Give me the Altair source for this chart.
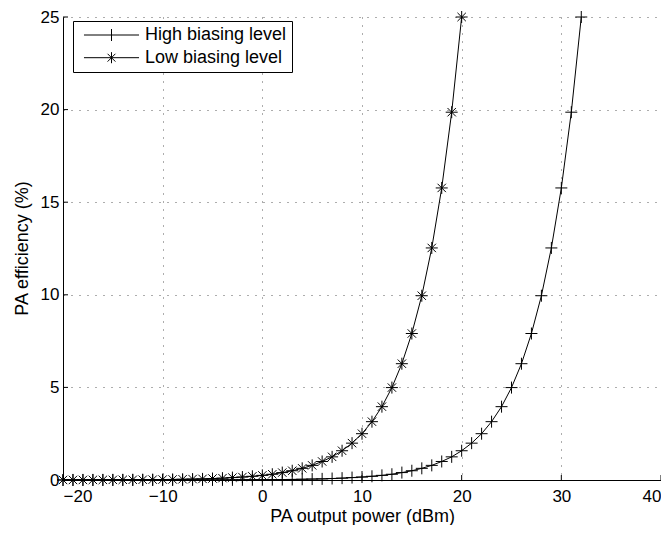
import altair as alt
import pandas as pd

# ---- data ----
series_names = ["High biasing level", "Low biasing level"]

power_high = list(range(-20, 33))
eff_high = [0.00016, 0.0002, 0.00025, 0.0003, 0.0004, 0.0005, 0.0006, 0.0008, 0.001, 0.0013,
            0.0016, 0.002, 0.0025, 0.003, 0.004, 0.005, 0.006, 0.008, 0.01, 0.013,
            0.016, 0.02, 0.025, 0.03, 0.04, 0.05, 0.06, 0.08, 0.10, 0.13,
            0.16, 0.20, 0.25, 0.31, 0.40, 0.50, 0.63, 0.79, 1.0, 1.25,
            1.58, 1.99, 2.50, 3.15, 3.96, 4.99, 6.28, 7.91, 9.95, 12.53,
            15.77, 19.86, 25.0]

power_low = list(range(-20, 21))
eff_low = [0.0025, 0.003, 0.004, 0.005, 0.006, 0.008, 0.01, 0.013, 0.016, 0.02,
           0.025, 0.03, 0.04, 0.05, 0.06, 0.08, 0.10, 0.13, 0.16, 0.20,
           0.25, 0.31, 0.40, 0.50, 0.63, 0.79, 1.0, 1.25, 1.58, 1.99,
           2.50, 3.15, 3.96, 4.99, 6.28, 7.91, 9.95, 12.53, 15.77, 19.86,
           25.0]

x_ticks = [-20, -10, 0, 10, 20, 30, 40]
y_ticks = [0, 5, 10, 15, 20, 25]

df = pd.concat([
    pd.DataFrame({"power": power_high, "eff": eff_high, "series": series_names[0]}),
    pd.DataFrame({"power": power_low, "eff": eff_low, "series": series_names[1]}),
], ignore_index=True)
df["legend_series"] = df["series"]

FONT = "Liberation Sans"
W, H = 598, 463

PLUS = "M-1,0L1,0M0,-1L0,1"
STAR = "M-1,0L1,0M0,-1L0,1M-0.7,-0.7L0.7,0.7M-0.7,0.7L0.7,-0.7"
LEG_PLUS = "M-3.44,0L3.44,0M0,-0.75L0,0.75"
LEG_STAR = "M-3.44,0L3.44,0M0,-0.69L0,0.69M-0.49,-0.49L0.49,0.49M-0.49,0.49L0.49,-0.49"

x_scale = alt.Scale(domain=[-20, 40], nice=False)
y_scale = alt.Scale(domain=[0, 25], nice=False)

x_axis = alt.Axis(values=x_ticks, title="PA output power (dBm)", tickSize=0,
                  labelPadding=8, titleY=41, titleBaseline="alphabetic")
y_axis = alt.Axis(values=y_ticks, title="PA efficiency (%)", tickSize=0,
                  labelPadding=4, titleX=-36, titleY=231, titleBaseline="alphabetic",
                  titleAngle=270)

base = alt.Chart(df)

lines = base.mark_line(color="black", strokeWidth=1).encode(
    x=alt.X("power:Q", scale=x_scale, axis=x_axis),
    y=alt.Y("eff:Q", scale=y_scale, axis=y_axis),
    detail="series:N",
)

points = base.mark_point(filled=False, color="black", strokeWidth=1, size=144, opacity=1).encode(
    x=alt.X("power:Q", scale=x_scale),
    y=alt.Y("eff:Q", scale=y_scale),
    shape=alt.Shape("series:N", scale=alt.Scale(domain=series_names, range=[PLUS, STAR]),
                    legend=None),
)

legend = alt.Legend(
    title=None, orient="none", legendX=10, legendY=4,
    strokeColor="black", fillColor="white", padding=5,
    symbolOffset=24.5, labelOffset=24.5, rowPadding=4.7,
    symbolSize=256, symbolStrokeColor="black", symbolFillColor="transparent",
    symbolStrokeWidth=1, symbolOpacity=1,
    labelFont=FONT, labelFontSize=18, labelColor="black", labelLimit=400,
)

legend_layer = base.transform_filter("false").mark_point(
    filled=False, color="black", strokeWidth=1, size=256, opacity=1).encode(
    x=alt.X("power:Q", scale=x_scale),
    y=alt.Y("eff:Q", scale=y_scale),
    shape=alt.Shape("legend_series:N",
                    scale=alt.Scale(domain=series_names, range=[LEG_PLUS, LEG_STAR]),
                    legend=legend),
)

xt = alt.Chart(pd.DataFrame({"t": x_ticks})).mark_rule(color="black", strokeWidth=1).encode(
    x=alt.X("t:Q", scale=x_scale), y=alt.value(H), y2=alt.value(H - 5))
yt = alt.Chart(pd.DataFrame({"t": y_ticks})).mark_rule(color="black", strokeWidth=1).encode(
    y=alt.Y("t:Q", scale=y_scale), x=alt.value(0), x2=alt.value(5))

chart = alt.layer(lines, points, legend_layer, xt, yt).resolve_scale(
    shape="independent"
).resolve_legend(shape="independent").properties(
    width=W, height=H,
    autosize=alt.AutoSizeParams(type="none"),
    padding={"left": 55, "top": 9, "right": 0, "bottom": 45},
    background="white",
).configure_view(stroke=None).configure_axis(
    labelFont=FONT, labelFontSize=17, labelColor="black",
    titleFont=FONT, titleFontSize=18, titleFontWeight="normal", titleColor="black",
    domainColor="black", domainWidth=1,
    grid=True, gridColor="#333333", gridDash=[1, 7], gridWidth=1, gridOpacity=0.8,
)

chart.save("out.html", embed_options={"renderer": "svg", "actions": False})
